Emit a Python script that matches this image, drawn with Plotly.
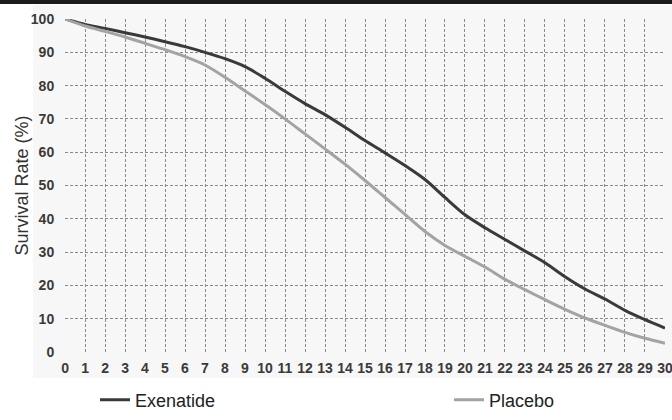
import plotly.graph_objects as go

months = list(range(0, 31))
exenatide = [100, 98.4, 97.2, 95.9, 94.6, 93.2, 91.7, 90.0, 88.1, 85.7, 82.2,
             78.3, 74.6, 71.3, 67.5, 63.5, 59.8, 56.0, 51.8, 46.4, 41.2,
             37.3, 33.8, 30.3, 26.8, 22.6, 18.9, 15.9, 12.5, 9.7, 7.2]
placebo = [100, 97.9, 96.3, 94.6, 92.7, 90.8, 88.7, 86.2, 82.5, 78.4, 74.3,
           70.0, 65.5, 61.0, 56.4, 51.5, 46.4, 41.3, 36.2, 32.0, 28.7,
           25.5, 21.8, 18.7, 15.7, 12.8, 10.2, 8.0, 5.9, 4.1, 2.6]
x_ticks = list(range(0, 31))
y_ticks = list(range(0, 101, 10))

FONT = "Liberation Sans, Arial, sans-serif"

fig = go.Figure()
fig.add_trace(go.Scatter(x=months, y=exenatide, mode="lines", name="Exenatide",
                         legend="legend",
                         line=dict(color="#3a3a3a", width=3, shape="spline", smoothing=0.8)))
fig.add_trace(go.Scatter(x=months, y=placebo, mode="lines", name="Placebo",
                         legend="legend2",
                         line=dict(color="#a3a3a3", width=3, shape="spline", smoothing=0.8)))

grid = dict(showgrid=True, gridcolor="#8a8a8a", gridwidth=1, griddash="3px,2px",
            zeroline=False, showline=False)

tick_font = dict(family=FONT, size=14, color="#3a3a3a", weight="bold")

fig.update_xaxes(range=[-0.001, 30.001], tickvals=x_ticks, ticktext=[str(v) for v in x_ticks],
                 ticks="outside", ticklen=3, tickcolor="rgba(0,0,0,0)",
                 tickfont=tick_font,
                 ticklabeloverflow="allow", automargin=False, **grid)
fig.update_yaxes(range=[-0.01, 100.01], tickvals=y_ticks, ticktext=[str(v) for v in y_ticks],
                 ticks="outside", ticklen=7, tickcolor="rgba(0,0,0,0)",
                 tickfont=tick_font,
                 ticklabeloverflow="allow", automargin=False, **grid)

leg = dict(orientation="h", xanchor="left", yanchor="middle", y=-0.144,
           bgcolor="rgba(0,0,0,0)", font=dict(family=FONT, size=18, color="#222222"))

fig.update_layout(
    width=672, height=420,
    margin=dict(l=65, r=7, t=19, b=68, autoexpand=False),
    paper_bgcolor="white",
    plot_bgcolor="rgba(0,0,0,0)",
    showlegend=True,
    legend=dict(x=(95 - 65) / 600, **leg),
    legend2=dict(x=(449 - 65) / 600, **leg),
    annotations=[
        dict(text="Survival Rate (%)", xref="paper", yref="paper",
             x=(21 - 65) / 600, y=0.5, xanchor="center", yanchor="middle",
             textangle=-90, showarrow=False,
             font=dict(family=FONT, size=18, color="#333333")),
    ],
    shapes=[
        dict(type="rect", xref="paper", yref="paper", layer="below",
             x0=-32 / 600, x1=607 / 600, y0=-26 / 333, y1=1 + 14 / 333,
             fillcolor="#f7f7f7", line=dict(width=0)),
        dict(type="rect", xref="paper", yref="paper", layer="above",
             x0=-65 / 600, x1=607 / 600, y0=1 + 15 / 333, y1=1 + 19 / 333,
             fillcolor="#1c1c1c", line=dict(width=0)),
    ],
)

fig.write_html("out.html", config={"displayModeBar": False},
               post_script="document.body.style.margin='0';")
